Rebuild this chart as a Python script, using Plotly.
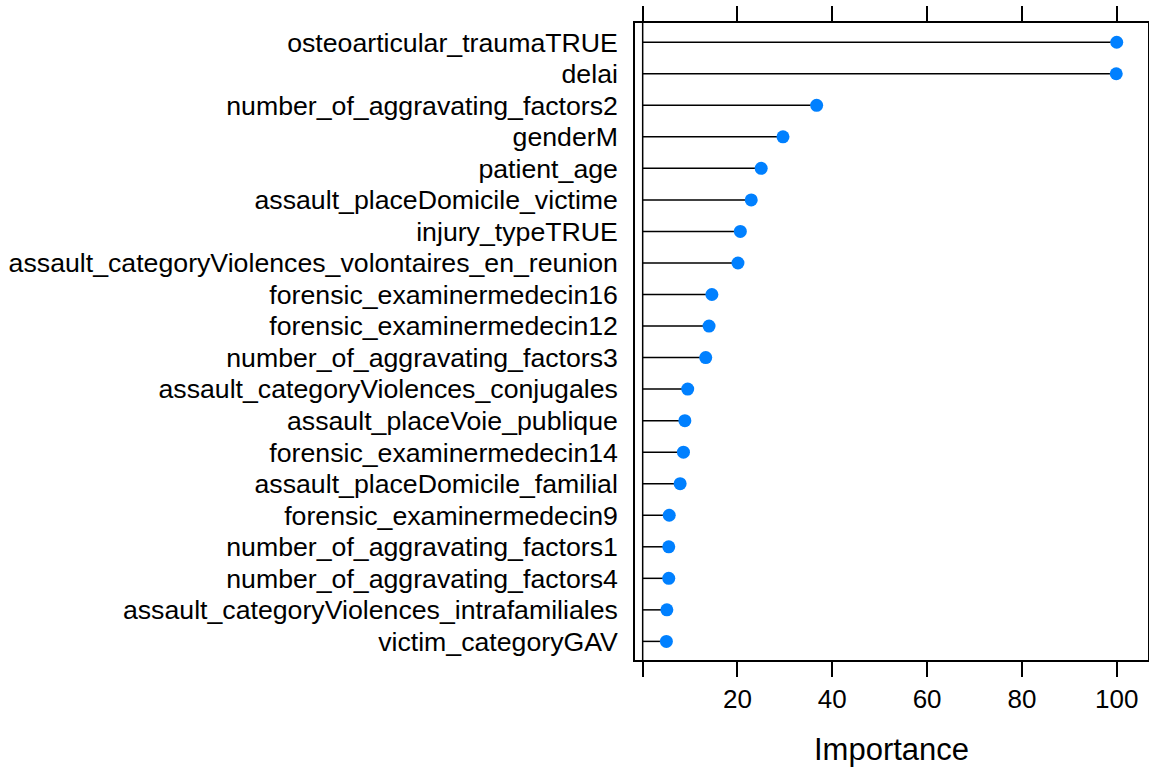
import plotly.graph_objects as go

features = [
    "osteoarticular_traumaTRUE",
    "delai",
    "number_of_aggravating_factors2",
    "genderM",
    "patient_age",
    "assault_placeDomicile_victime",
    "injury_typeTRUE",
    "assault_categoryViolences_volontaires_en_reunion",
    "forensic_examinermedecin16",
    "forensic_examinermedecin12",
    "number_of_aggravating_factors3",
    "assault_categoryViolences_conjugales",
    "assault_placeVoie_publique",
    "forensic_examinermedecin14",
    "assault_placeDomicile_familial",
    "forensic_examinermedecin9",
    "number_of_aggravating_factors1",
    "number_of_aggravating_factors4",
    "assault_categoryViolences_intrafamiliales",
    "victim_categoryGAV",
]
importance = [100.0, 99.9, 36.7, 29.6, 25.0, 22.9, 20.6, 20.1, 14.6, 14.0,
              13.3, 9.5, 8.9, 8.6, 7.9, 5.6, 5.5, 5.5, 5.1, 5.0]
tick_vals = [0, 20, 40, 60, 80, 100]
tick_text = ["", "20", "40", "60", "80", "100"]

FONT = "Liberation Sans, Arial, Helvetica, sans-serif"

# lollipop stems from 0 to each value
stem_x, stem_y = [], []
for f, v in zip(features, importance):
    stem_x += [0, v, None]
    stem_y += [f, f, None]

fig = go.Figure()
fig.add_trace(go.Scatter(x=stem_x, y=stem_y, mode="lines",
                         line=dict(color="black", width=1.5),
                         hoverinfo="skip", showlegend=False))
fig.add_trace(go.Scatter(x=importance, y=features, mode="markers",
                         marker=dict(color="#0080ff", size=13),
                         showlegend=False))

# reference line at zero
fig.add_vline(x=0, line=dict(color="black", width=1.5), layer="below")

fig.update_layout(
    width=1149, height=769,
    plot_bgcolor="white", paper_bgcolor="white",
    margin=dict(l=635, r=1, t=23, b=109),
    font=dict(family=FONT, color="black", size=26),
    xaxis=dict(range=[-1.62, 106.6], tickvals=tick_vals, ticktext=tick_text,
               ticks="outside", ticklen=15, tickwidth=1.5, tickcolor="black",
               showline=True, linecolor="black", linewidth=1.5, mirror="ticks",
               showgrid=False, zeroline=False, automargin=False,
               tickfont=dict(size=26)),
    yaxis=dict(type="category", categoryorder="array", categoryarray=features,
               tickmode="array", tickvals=features, ticktext=features,
               range=[19.59, -0.61], ticks="", showline=True, linecolor="black",
               linewidth=1.5, mirror=True, showgrid=False, zeroline=False,
               automargin=False, ticklabelstandoff=10,
               tickfont=dict(size=26.7)),
)

fig.add_annotation(text="Importance", xref="paper", yref="paper",
                   x=0.5, y=-0.141, yanchor="middle", showarrow=False,
                   font=dict(size=31, family=FONT, color="black"))

fig.write_html("out.html", config={"displayModeBar": False},
               post_script="document.body.style.margin='0';"
                           "document.body.style.overflow='hidden';")
